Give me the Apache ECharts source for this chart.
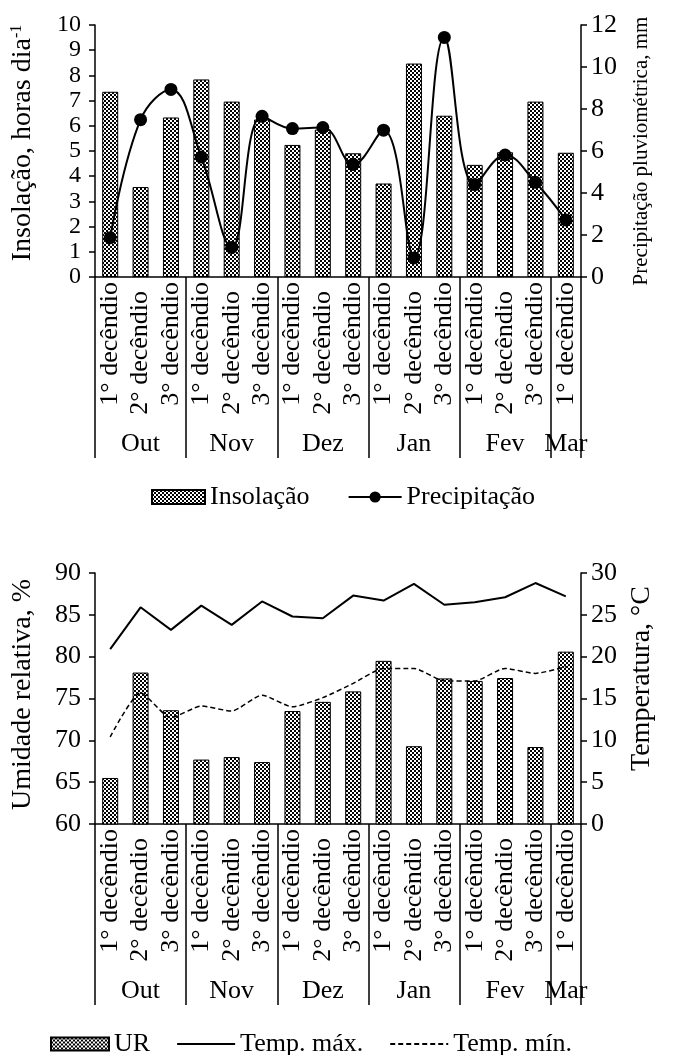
<!DOCTYPE html>
<html>
<head>
<meta charset="UTF-8">
<title>Insolação, precipitação, umidade e temperatura</title>
<script src="https://cdn.jsdelivr.net/npm/echarts@6/dist/echarts.min.js"></script>
<style>html,body{margin:0;padding:0;background:#fff}</style>
</head>
<body>
<div id="main" style="width:678px;height:1055px"></div>
<script type="text/javascript">
    var decendios = ['1° decêndio', '2° decêndio', '3° decêndio',
                     '1° decêndio', '2° decêndio', '3° decêndio',
                     '1° decêndio', '2° decêndio', '3° decêndio',
                     '1° decêndio', '2° decêndio', '3° decêndio',
                     '1° decêndio', '2° decêndio', '3° decêndio',
                     '1° decêndio'];
    var months = ['Out', 'Nov', 'Dez', 'Jan', 'Fev', 'Mar'];
    var monthSize = [3, 3, 3, 3, 3, 1];

    var insolacao = [7.35, 3.57, 6.33, 7.84, 6.96, 6.25, 5.24, 5.85, 4.91, 3.71, 8.47, 6.4, 4.45, 4.95, 6.96, 4.93];
    var precipitacao = [1.87, 7.49, 8.93, 5.71, 1.41, 7.65, 7.07, 7.12, 5.36, 6.99, 0.91, 11.41, 4.4, 5.81, 4.51, 2.72];
    var umidade = [65.5, 78.1, 73.6, 67.7, 68.0, 67.4, 73.5, 74.6, 75.85, 79.5, 69.3, 77.4, 77.1, 77.45, 69.2, 80.6];
    var tempMax = [20.9, 25.9, 23.2, 26.1, 23.8, 26.6, 24.8, 24.6, 27.3, 26.7, 28.7, 26.2, 26.5, 27.1, 28.8, 27.2];
    var tempMin = [10.4, 15.7, 12.7, 14.1, 13.5, 15.4, 14.0, 15.1, 16.8, 18.6, 18.6, 17.1, 17.1, 18.6, 18.0, 18.8];

    // month name sits in the middle of its decendios
    var monthCats = [];
    for (var m = 0; m < months.length; m++) {
        for (var k = 0; k < monthSize[m]; k++) {
            monthCats.push(k === Math.floor((monthSize[m] - 1) / 2) ? months[m] : '');
        }
    }
    // boundaries between months
    var bounds = [];
    var acc = 0;
    for (var m = 0; m < monthSize.length; m++) { bounds.push(acc); acc += monthSize[m]; }

    var FONT = 'Liberation Serif';
    var FS = 26;
    var txt = { color: '#000', fontFamily: FONT, fontSize: FS };

    function makePattern() {
        var c = document.createElement('canvas');
        c.width = 4; c.height = 4;
        var ctx = c.getContext('2d');
        ctx.fillStyle = '#fff';
        ctx.fillRect(0, 0, 4, 4);
        ctx.fillStyle = '#000';
        ctx.fillRect(0, 0, 2, 2);
        ctx.fillRect(2, 2, 2, 2);
        return c;
    }
    var pattern = { image: makePattern(), repeat: 'repeat' };

    function catAxis(grid) {
        return {
            type: 'category', gridIndex: grid, position: 'bottom', data: decendios,
            axisLine: { onZero: false, lineStyle: { color: '#000', width: 1.5 } },
            axisTick: { show: false },
            axisLabel: {
                rotate: 90, margin: 5, interval: 0, color: '#000', fontFamily: FONT, fontSize: FS,
                formatter: function (v, i) { return i % 3 === 1 ? '{b|' + v + '}' : v; },
                rich: { b: { fontFamily: FONT, fontSize: FS, color: '#000', padding: [0, 9, 0, 0] } }
            }
        };
    }
    function monthAxis(grid) {
        return {
            type: 'category', gridIndex: grid, position: 'bottom', data: monthCats,
            axisLine: { show: false, onZero: false },
            axisTick: {
                show: true, length: 181,
                interval: function (i) { return bounds.indexOf(i) >= 0; },
                lineStyle: { color: '#000', width: 1.5 }
            },
            axisLabel: { margin: 154, interval: 0, color: '#000', fontFamily: FONT, fontSize: FS }
        };
    }
    function valAxis(grid, pos, min, max, step, name, gap, nameSize, lift, labelSize) {
        return {
            type: 'value', gridIndex: grid, position: pos, min: min, max: max, interval: step,
            name: name, nameLocation: 'middle', nameGap: gap,
            nameTextStyle: {
                color: '#000', fontFamily: FONT, fontSize: nameSize,
                padding: [0, 0, 0, lift || 0],
                rich: { sup: { fontFamily: FONT, fontSize: 16, color: '#000', verticalAlign: 'top' } }
            },
            axisLine: { show: true, lineStyle: { color: '#000', width: 1.5 } },
            axisTick: { show: true, length: 6, lineStyle: { color: '#000', width: 1.5 } },
            axisLabel: {
                margin: pos === 'left' ? 14 : 10, showMinLabel: true, showMaxLabel: true,
                hideOverlap: false,
                color: '#000', fontFamily: FONT, fontSize: labelSize || FS
            },
            splitLine: { show: false }
        };
    }

    var option = {
        animation: false,
        backgroundColor: '#fff',
        textStyle: txt,
        grid: [
            { left: 95, right: 97, top: 25, height: 252 },
            { left: 95, right: 97, top: 573, height: 251 }
        ],
        xAxis: [catAxis(0), monthAxis(0), catAxis(1), monthAxis(1)],
        yAxis: [
            valAxis(0, 'left', 0, 10, 1, 'Insolação, horas dia{sup|-1}', 58, 28, 16, 24),
            valAxis(0, 'right', 0, 12, 2, 'Precipitação pluviométrica, mm', 50, 21, 0),
            valAxis(1, 'left', 60, 90, 5, 'Umidade relativa, %', 58, 28, 8),
            valAxis(1, 'right', 0, 30, 5, 'Temperatura, °C', 33, 28, 40)
        ],
        legend: [
            {
                data: [{ name: 'Insolação', icon: 'rect' }, { name: 'Precipitação' }],
                top: 479, left: 146,
                itemWidth: 53, itemHeight: 14, itemGap: 38,
                textStyle: txt
            },
            {
                data: [
                    { name: 'UR', icon: 'rect' },
                    { name: 'Temp. máx.', itemStyle: { opacity: 0 } },
                    { name: 'Temp. mín.', itemStyle: { opacity: 0 } }
                ],
                top: 1026, left: 45,
                itemWidth: 58, itemHeight: 13, itemGap: 26,
                textStyle: txt
            }
        ],
        series: [
            {
                name: 'Insolação', type: 'bar', xAxisIndex: 0, yAxisIndex: 0,
                barWidth: 16, data: insolacao,
                itemStyle: { color: pattern, borderColor: '#000', borderWidth: 1 }
            },
            {
                name: 'Precipitação', type: 'line', xAxisIndex: 0, yAxisIndex: 1,
                smooth: 0.4, symbol: 'circle', symbolSize: 13, data: precipitacao,
                itemStyle: { color: '#000' },
                lineStyle: { color: '#000', width: 2 }
            },
            {
                name: 'UR', type: 'bar', xAxisIndex: 2, yAxisIndex: 2,
                barWidth: 16, data: umidade,
                itemStyle: { color: pattern, borderColor: '#000', borderWidth: 1 }
            },
            {
                name: 'Temp. máx.', type: 'line', xAxisIndex: 2, yAxisIndex: 3,
                symbol: 'none', data: tempMax,
                itemStyle: { color: '#000' },
                lineStyle: { color: '#000', width: 2 }
            },
            {
                name: 'Temp. mín.', type: 'line', xAxisIndex: 2, yAxisIndex: 3,
                symbol: 'none', smooth: 0.2, data: tempMin,
                itemStyle: { color: '#000' },
                lineStyle: { color: '#000', width: 1.5, type: [5, 3] }
            }
        ]
    };

    var myChart = echarts.init(document.getElementById('main'));
    myChart.setOption(option);
</script>
</body>
</html>
